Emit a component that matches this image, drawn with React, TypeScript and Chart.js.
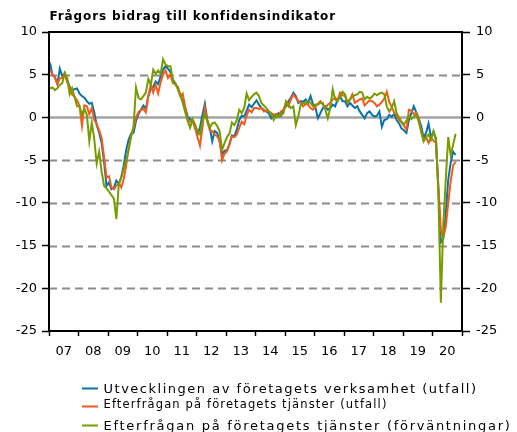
import React, { useEffect, useRef } from 'react';
import { Chart, registerables } from 'chart.js';

Chart.register(...registerables);

const titleText = 'Frågors bidrag till konfidensindikator';
const yearLabels = ['07', '08', '09', '10', '11', '12', '13', '14', '15', '16', '17', '18', '19', '20'];
const yTicks = [10, 5, 0, -5, -10, -15, -20, -25];
const seriesNames = [
  'Utvecklingen av företagets verksamhet (utfall)',
  'Efterfrågan på företagets tjänster (utfall)',
  'Efterfrågan på företagets tjänster (förväntningar)',
];

// monthly values, Jan 2007 - Oct 2020
const verksamhetUtfall = [
  6.4, 5.0, 4.7, 3.9, 5.7, 4.8, 5.2, 4.4, 3.6, 3.2, 3.3, 3.4,
  2.8, 2.5, 2.3, 1.9, 1.6, 1.7, 0.6, -0.9, -1.8, -3.0, -5.2, -8.0,
  -7.6, -8.4, -8.2, -7.4, -7.8, -7.0, -5.6, -3.8, -2.6, -1.9, -1.8, -0.4,
  0.4, 0.9, 1.4, 1.0, 2.5, 3.3, 3.6, 4.2, 3.9, 4.8, 5.6, 6.0,
  5.7, 5.3, 4.4, 4.0, 3.4, 2.6, 2.0, 1.2, 0.1, -0.2, -0.4, -1.2,
  -2.0, -1.2, 0.3, 1.6, -0.3, -1.2, -2.8, -1.6, -1.8, -2.8, -4.3, -3.9,
  -3.8, -3.2, -2.1, -2.2, -1.4, -0.3, 0.2, 0.1, 0.8, 1.5, 1.2, 1.6,
  2.0, 1.5, 1.1, 0.9, 0.7, 0.5, -0.1, 0.3, 0.1, 0.5, 0.2, 0.9,
  1.3, 1.9, 2.3, 2.9, 2.5, 1.7, 1.9, 1.8, 2.1, 1.7, 2.5, 1.5,
  1.1, -0.1, 0.5, 1.1, 1.3, 0.9, 1.1, 1.5, 1.3, 2.1, 2.5, 1.9,
  1.9, 1.3, 1.7, 1.4, 1.1, 1.3, 0.7, 0.3, -0.1, 0.5, 0.7, 0.3,
  0.1, 0.2, 0.7, -1.1, -0.3, -0.2, 0.3, 0.1, 0.4, -0.3, -0.7, -1.3,
  -1.5, -1.8, -0.3, 0.5, 1.3, 0.6, -0.1, -1.0, -2.4, -1.8, -0.7, -2.4,
  -1.7, -2.6, -8.5, -14.6, -14.2, -11.3, -7.3, -5.3, -4.0, -4.4,
];

const efterfraganUtfall = [
  5.6, 5.0, 4.7, 3.9, 4.6, 4.6, 5.1, 4.1, 3.6, 2.7, 2.4, 2.0,
  1.4, -1.0, 1.4, 1.3, 0.4, 1.1, -0.3, -0.8, -1.5, -2.4, -4.6, -7.0,
  -6.9, -8.2, -8.4, -8.0, -7.7, -8.2, -7.2, -5.6, -3.6, -2.2, -1.2, 0.0,
  0.6, 0.9, 1.0, 0.6, 2.5, 3.9, 2.9, 3.8, 2.8, 4.1, 5.0, 5.5,
  4.6, 5.0, 4.0, 4.0, 3.3, 2.5, 2.8, 1.2, -0.3, -0.5, -0.3, -1.2,
  -2.3, -3.3, -1.2, 1.1, -0.5, -1.5, -1.6, -2.0, -2.2, -2.7, -5.0, -4.2,
  -4.0, -3.1, -2.2, -2.3, -2.0, -1.2, -0.5, -0.8, 0.2, 0.9, 0.6, 1.1,
  1.1, 1.0, 1.1, 0.7, 0.8, 0.7, 0.5, 0.3, 0.4, 0.1, 0.7, 0.9,
  1.7, 1.3, 2.1, 2.7, 2.3, 1.9, 1.7, 1.3, 1.6, 1.5, 1.1, 0.9,
  1.3, 1.6, 1.9, 1.5, 1.1, 1.5, 1.7, 2.1, 2.3, 2.0, 2.9, 2.6,
  2.5, 1.7, 2.1, 2.7, 1.7, 1.9, 2.1, 2.2, 1.4, 1.7, 2.0, 1.9,
  1.7, 1.3, 1.5, 1.8, 2.2, 3.0, 1.8, 1.2, 0.6, 0.2, -0.3, -0.6,
  -1.0, -1.4, 0.9, 0.8, 0.4, 0.5, -0.2, -1.6, -2.7, -2.3, -3.0, -2.4,
  -2.7, -3.0, -8.0, -13.2, -14.0, -12.8, -10.0, -7.5, -5.6, -5.2,
];

const efterfraganForvantningar = [
  3.4, 3.5, 3.2, 3.4, 3.8, 4.0, 5.2, 4.6, 2.7, 3.4, 2.4, 1.3,
  1.3, 0.3, 1.0, 0.3, -2.8, -0.6, -2.5, -5.4, -4.0, -6.3, -8.0, -8.3,
  -8.7, -9.1, -9.5, -11.9, -7.8, -7.0, -6.0, -5.0, -3.8, -2.2, -1.0, 3.5,
  2.3, 2.1, 2.5, 2.9, 4.5, 3.8, 5.6, 5.1, 5.5, 5.1, 6.8, 6.2,
  6.0, 6.0, 4.3, 3.8, 3.6, 2.7, 1.7, 0.6, -0.4, -1.2, -0.2, -0.8,
  -1.6, -2.0, -0.4, 0.3, -0.4, -1.2, -0.7, -0.6, -1.0, -1.6, -3.8, -3.0,
  -2.3, -1.9, -0.6, -0.9, -0.3, 0.9, 0.5, 1.1, 2.8, 2.0, 2.4, 2.7,
  2.9, 2.5, 1.7, 1.4, 1.1, 0.7, 0.5, -0.3, 0.3, 0.1, 0.3, 0.5,
  1.9, 1.5, 1.1, 1.3, -0.9, 0.1, 1.5, 1.7, 1.7, 1.9, 1.7, 1.3,
  1.5, 1.5, 1.7, 1.7, 0.9, -0.1, 1.1, 3.3, 2.1, 1.9, 2.4, 3.0,
  2.7, 1.8, 2.1, 2.4, 2.6, 2.7, 3.0, 2.9, 2.1, 2.4, 2.2, 2.4,
  2.8, 2.6, 2.8, 2.9, 2.7, 1.3, 0.7, 1.1, 1.9, 0.5, 0.0, -0.5,
  -0.8, -0.4, 0.2, -0.2, 0.1, 0.3, -0.5, -1.7, -2.8, -2.3, -2.0, -2.6,
  -1.6, -2.4, -9.0, -21.7, -12.5, -7.3, -2.3, -4.4, -3.2, -1.9,
];

const colors = ['#0a72a6', '#f45b1a', '#789c00'];
const FONT = '"DejaVu Sans", Verdana, sans-serif';
const POINT_SHIFT = 0.4;
const FRAME_COLOR = '#000000';
const FRAME_W = 2;

const legendRows = [
  { lineY: 388.5, baseline: 393, size: 13, width: 374 },
  { lineY: 406.5, baseline: 408, size: 11.5, width: 284 },
  { lineY: 425.5, baseline: 429.5, size: 13, width: 408 },
];

function toPoints(values: number[]) {
  return values.map((v, i) => ({ x: i + POINT_SHIFT, y: v }));
}

function fitText(ctx: CanvasRenderingContext2D, text: string, target: number) {
  (ctx as any).letterSpacing = '0px';
  const w = ctx.measureText(text).width;
  const ls = (target - w) / text.length;
  (ctx as any).letterSpacing = `${ls}px`;
}

const decorPlugin = {
  id: 'decor',
  beforeDatasetsDraw(chart: any) {
    const { ctx, chartArea: a, scales } = chart;
    const ys = scales.y;
    ctx.save();
    for (const v of yTicks) {
      if (v === ys.max || v === ys.min) continue;
      const py = Math.round(ys.getPixelForValue(v)) + 0.5;
      ctx.beginPath();
      if (v === 0) {
        ctx.setLineDash([]);
        ctx.strokeStyle = '#a3a3a3';
        ctx.lineWidth = 2.5;
      } else {
        ctx.setLineDash([8, 5]);
        ctx.strokeStyle = '#8c8c8c';
        ctx.lineWidth = 1.8;
      }
      ctx.moveTo(a.left, py);
      ctx.lineTo(a.right, py);
      ctx.stroke();
    }
    ctx.restore();
  },
  afterDraw(chart: any) {
    const { ctx, chartArea: a } = chart;
    ctx.save();
    ctx.setLineDash([]);
    ctx.fillStyle = FRAME_COLOR;
    const h = FRAME_W / 2;
    ctx.fillRect(a.left - h, a.top - h, a.right - a.left + FRAME_W, FRAME_W);
    ctx.fillRect(a.left - h, a.bottom - h, a.right - a.left + FRAME_W, FRAME_W);
    ctx.fillRect(a.left - h, a.top - h, FRAME_W, a.bottom - a.top + FRAME_W);
    ctx.fillRect(a.right - h, a.top - h, FRAME_W, a.bottom - a.top + FRAME_W);
    ctx.fillStyle = '#000';
    ctx.textBaseline = 'alphabetic';
    ctx.textAlign = 'left';
    ctx.font = `bold 12px ${FONT}`;
    fitText(ctx, titleText, 286);
    ctx.fillText(titleText, 49.5, 20);
    chart.data.datasets.forEach((ds: any, i: number) => {
      const row = legendRows[i];
      (ctx as any).letterSpacing = '0px';
      ctx.fillStyle = ds.borderColor;
      ctx.fillRect(82, row.lineY - 1, 16, 2);
      ctx.fillStyle = '#000';
      ctx.font = `${row.size}px ${FONT}`;
      fitText(ctx, ds.label, row.width);
      ctx.fillText(ds.label, 103.5, row.baseline);
    });
    (ctx as any).letterSpacing = '0px';
    ctx.restore();
  },
};

const tickFont = { family: FONT, size: 13 };

export default function App() {
  const ref = useRef<HTMLCanvasElement>(null);

  useEffect(() => {
    const seriesValues = [verksamhetUtfall, efterfraganUtfall, efterfraganForvantningar];
    const drawOrder = [2, 1, 0];
    const xTickValues = yearLabels.map((_, i) => i * 12).concat([yearLabels.length * 12]);
    const xTickText = yearLabels.concat(['']);

    const chart = new Chart(ref.current as HTMLCanvasElement, {
      type: 'line',
      data: {
        datasets: seriesValues.map((vals, i) => ({
          label: seriesNames[i],
          data: toPoints(vals),
          borderColor: colors[i],
          backgroundColor: colors[i],
          borderWidth: 2,
          pointRadius: 0,
          tension: 0,
          fill: false,
          yAxisID: 'y',
          order: drawOrder[i],
        })),
      },
      options: {
        responsive: false,
        animation: false,
        layout: { padding: { top: 32, left: 0, right: 0, bottom: 0 } },
        plugins: {
          legend: { display: false },
          title: { display: false },
          tooltip: { enabled: false },
        },
        scales: {
          x: {
            type: 'linear',
            min: xTickValues[0],
            max: xTickValues[xTickValues.length - 1],
            afterBuildTicks: (s: any) => {
              s.ticks = xTickValues.map((v) => ({ value: v }));
            },
            afterFit: (s: any) => {
              s.height = 101;
            },
            ticks: {
              autoSkip: false,
              maxRotation: 0,
              minRotation: 0,
              labelOffset: 14.75,
              padding: 8,
              color: '#000',
              font: tickFont,
              callback: (_v: any, i: number) => xTickText[i],
            },
            grid: { display: true, drawOnChartArea: false, drawTicks: true, tickLength: 5, tickColor: '#000', tickWidth: 1.5 },
            border: { display: false },
          },
          y: {
            position: 'left',
            min: yTicks[yTicks.length - 1],
            max: yTicks[0],
            afterFit: (s: any) => {
              s.width = 49;
            },
            ticks: { stepSize: 5, padding: 5, color: '#000', font: tickFont },
            grid: { display: true, drawOnChartArea: false, tickLength: 7, tickColor: '#000', tickWidth: 1.5 },
            border: { display: false },
          },
          y2: {
            position: 'right',
            min: yTicks[yTicks.length - 1],
            max: yTicks[0],
            afterFit: (s: any) => {
              s.width = 55;
            },
            ticks: { stepSize: 5, padding: 6, color: '#000', font: tickFont },
            grid: { display: true, drawOnChartArea: false, tickLength: 8, tickColor: '#000', tickWidth: 1.5 },
            border: { display: false },
          },
        },
      } as any,
      plugins: [decorPlugin],
    });
    return () => chart.destroy();
  }, []);

  return (
    <div style={{ position: 'absolute', left: 0, top: 0, width: 517, height: 432, background: '#fff' }}>
      <canvas ref={ref} width={517} height={432} style={{ display: 'block' }} />
    </div>
  );
}
